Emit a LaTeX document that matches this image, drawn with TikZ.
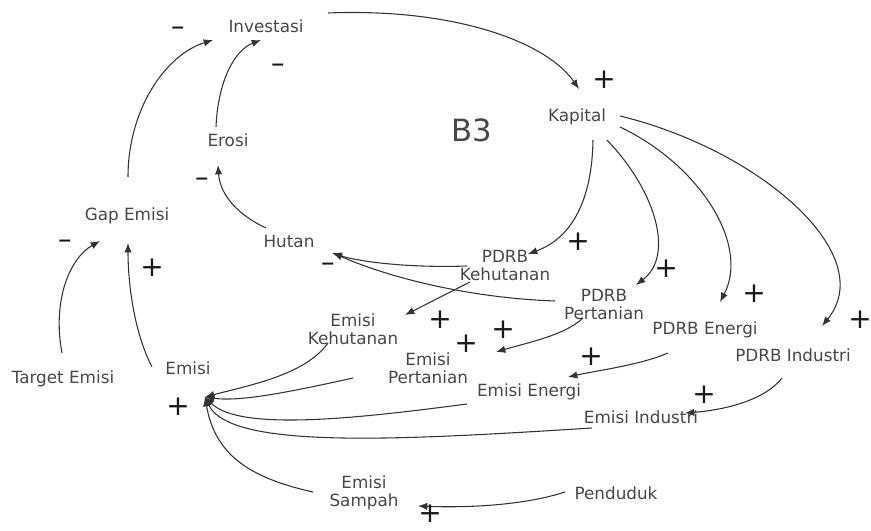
\documentclass[tikz,border=0pt]{standalone}
\usepackage{fontspec}
\setmainfont{DejaVu Sans}
\usetikzlibrary{arrows.meta,calc}
\begin{document}
\begin{tikzpicture}[x=0.75pt,y=-0.75pt,
  var/.style={font=\fontsize{12.6}{13.5}\selectfont, text=black!72, align=center, inner sep=0pt},
  lnk/.style={draw=black!80, line width=0.8pt, -{Latex[length=7pt,width=5.5pt]}},
  plus/.style={font=\fontsize{21}{21}\selectfont, text=black!90, inner sep=0pt},
  minus/.style={font=\fontsize{13}{13}\selectfont\bfseries, text=black!90, inner sep=0pt}]
\useasboundingbox (0,0) rectangle (871,531);
% variables
\node[var] (inv)   at (266,26)  {Investasi};
\node[var] (kap)   at (577,117) {Kapital};
\node[var,font=\fontsize{23}{23}\selectfont] (b3) at (472,130) {B3};
\node[var] (ero)   at (228,140) {Erosi};
\node[var] (gap)   at (127,216) {Gap Emisi};
\node[var] (hut)   at (289,241) {Hutan};
\node[var] (pkeh)  at (505,265) {PDRB\\Kehutanan};
\node[var] (ppert) at (604,304) {PDRB\\Pertanian};
\node[var] (pen)   at (705,330) {PDRB Energi};
\node[var] (pind)  at (793,355) {PDRB Industri};
\node[var] (ekeh)  at (353,329) {Emisi\\Kehutanan};
\node[var] (epert) at (428,368) {Emisi\\Pertanian};
\node[var] (een)   at (529,392) {Emisi Energi};
\node[var] (eind)  at (641,417) {Emisi Industri};
\node[var] (tgt)   at (63,379)  {Target Emisi};
\node[var] (emisi) at (188,368) {Emisi};
\node[var] (esam)  at (364,493) {Emisi\\Sampah};
\node[var] (pdd)   at (616,493) {Penduduk};
\coordinate (sink) at ($(emisi)+(17,29)$);
% links
\draw[lnk] ($(gap)+(1,-39)$) .. controls (128,110) and (165,55) .. ($(inv)+(-53,14)$);
\draw[lnk] ($(ero)+(-12,-13)$) .. controls (218,80) and (235,50) .. ($(inv)+(-5,14)$);
\draw[lnk] ($(hut)+(-23,-13)$) .. controls (238,215) and (220,195) .. ($(ero)+(-10,25)$);
\draw[lnk] ($(tgt)+(-1,-26)$) .. controls (52,300) and (70,258) .. ($(gap)+(-27,25)$);
\draw[lnk] ($(emisi)+(-36,-1)$) .. controls (133,330) and (128,280) .. ($(gap)+(1,27)$);
\draw[lnk] ($(inv)+(62,-13)$) .. controls (450,8) and (545,40) .. ($(kap)+(2,-28)$);
\draw[lnk] ($(kap)+(16,23)$) .. controls (592,200) and (572,238) .. ($(pkeh)+(23,-11)$);
\draw[lnk] ($(kap)+(30,23)$) .. controls (655,190) and (675,255) .. ($(ppert)+(32,-19)$);
\draw[lnk] ($(kap)+(43,10)$) .. controls (700,165) and (750,245) .. ($(pen)+(15,-28)$);
\draw[lnk] ($(kap)+(43,-1)$) .. controls (760,150) and (880,255) .. ($(pind)+(29,-29)$);
\draw[lnk] ($(pkeh)+(-38,1)$) .. controls (410,268) and (360,262) .. ($(hut)+(43,12)$);
\draw[lnk] ($(ppert)+(-49,-3)$) .. controls (470,298) and (390,278) .. ($(hut)+(44,12)$);
\draw[lnk] ($(pkeh)+(-35,17)$) -- ($(ekeh)+(52,-14)$);
\draw[lnk] ($(ppert)+(-21,14)$) .. controls (565,335) and (530,342) .. ($(epert)+(68,-16)$);
\draw[lnk] ($(pen)+(-37,23)$) .. controls (640,365) and (600,370) .. ($(een)+(39,-15)$);
\draw[lnk] ($(pind)+(-11,23)$) .. controls (765,400) and (725,410) .. ($(eind)+(44,-4)$);
\draw[lnk] ($(pdd)+(-51,-1)$) .. controls (525,505) and (470,508) .. ($(esam)+(54,13)$);
\draw[lnk] ($(ekeh)+(-25,14)$) .. controls (305,375) and (250,385) .. (sink);
\draw[lnk] ($(epert)+(-75,10)$) .. controls (290,392) and (240,402) .. (sink);
\draw[lnk] ($(een)+(-62,12)$) .. controls (360,418) and (240,432) .. (sink);
\draw[lnk] ($(eind)+(-49,11)$) .. controls (400,440) and (230,450) .. (sink);
\draw[lnk] ($(esam)+(-51,-1)$) .. controls (250,478) and (215,455) .. (sink);
% polarity signs
\node[minus] (m1) at (178,30)  {−};
\node[minus] (m2) at (278,67)  {−};
\node[minus] (m3) at (202,181) {−};
\node[minus] (m4) at (65,243)  {−};
\node[minus] (m5) at (328,266) {−};
\node[plus] (p1)  at (604,80)  {+};
\node[plus] (p2)  at (152,268) {+};
\node[plus] (p3)  at (578,242) {+};
\node[plus] (p4)  at (666,269) {+};
\node[plus] (p5)  at (754,294) {+};
\node[plus] (p6)  at (860,320) {+};
\node[plus] (p7)  at (440,320) {+};
\node[plus] (p8)  at (503,330) {+};
\node[plus] (p9)  at (466,344) {+};
\node[plus] (p10) at (591,357) {+};
\node[plus] (p11) at (704,395) {+};
\node[plus] (p12) at (178,407) {+};
\node[plus] (p13) at (430,514) {+};
\end{tikzpicture}
\end{document}
